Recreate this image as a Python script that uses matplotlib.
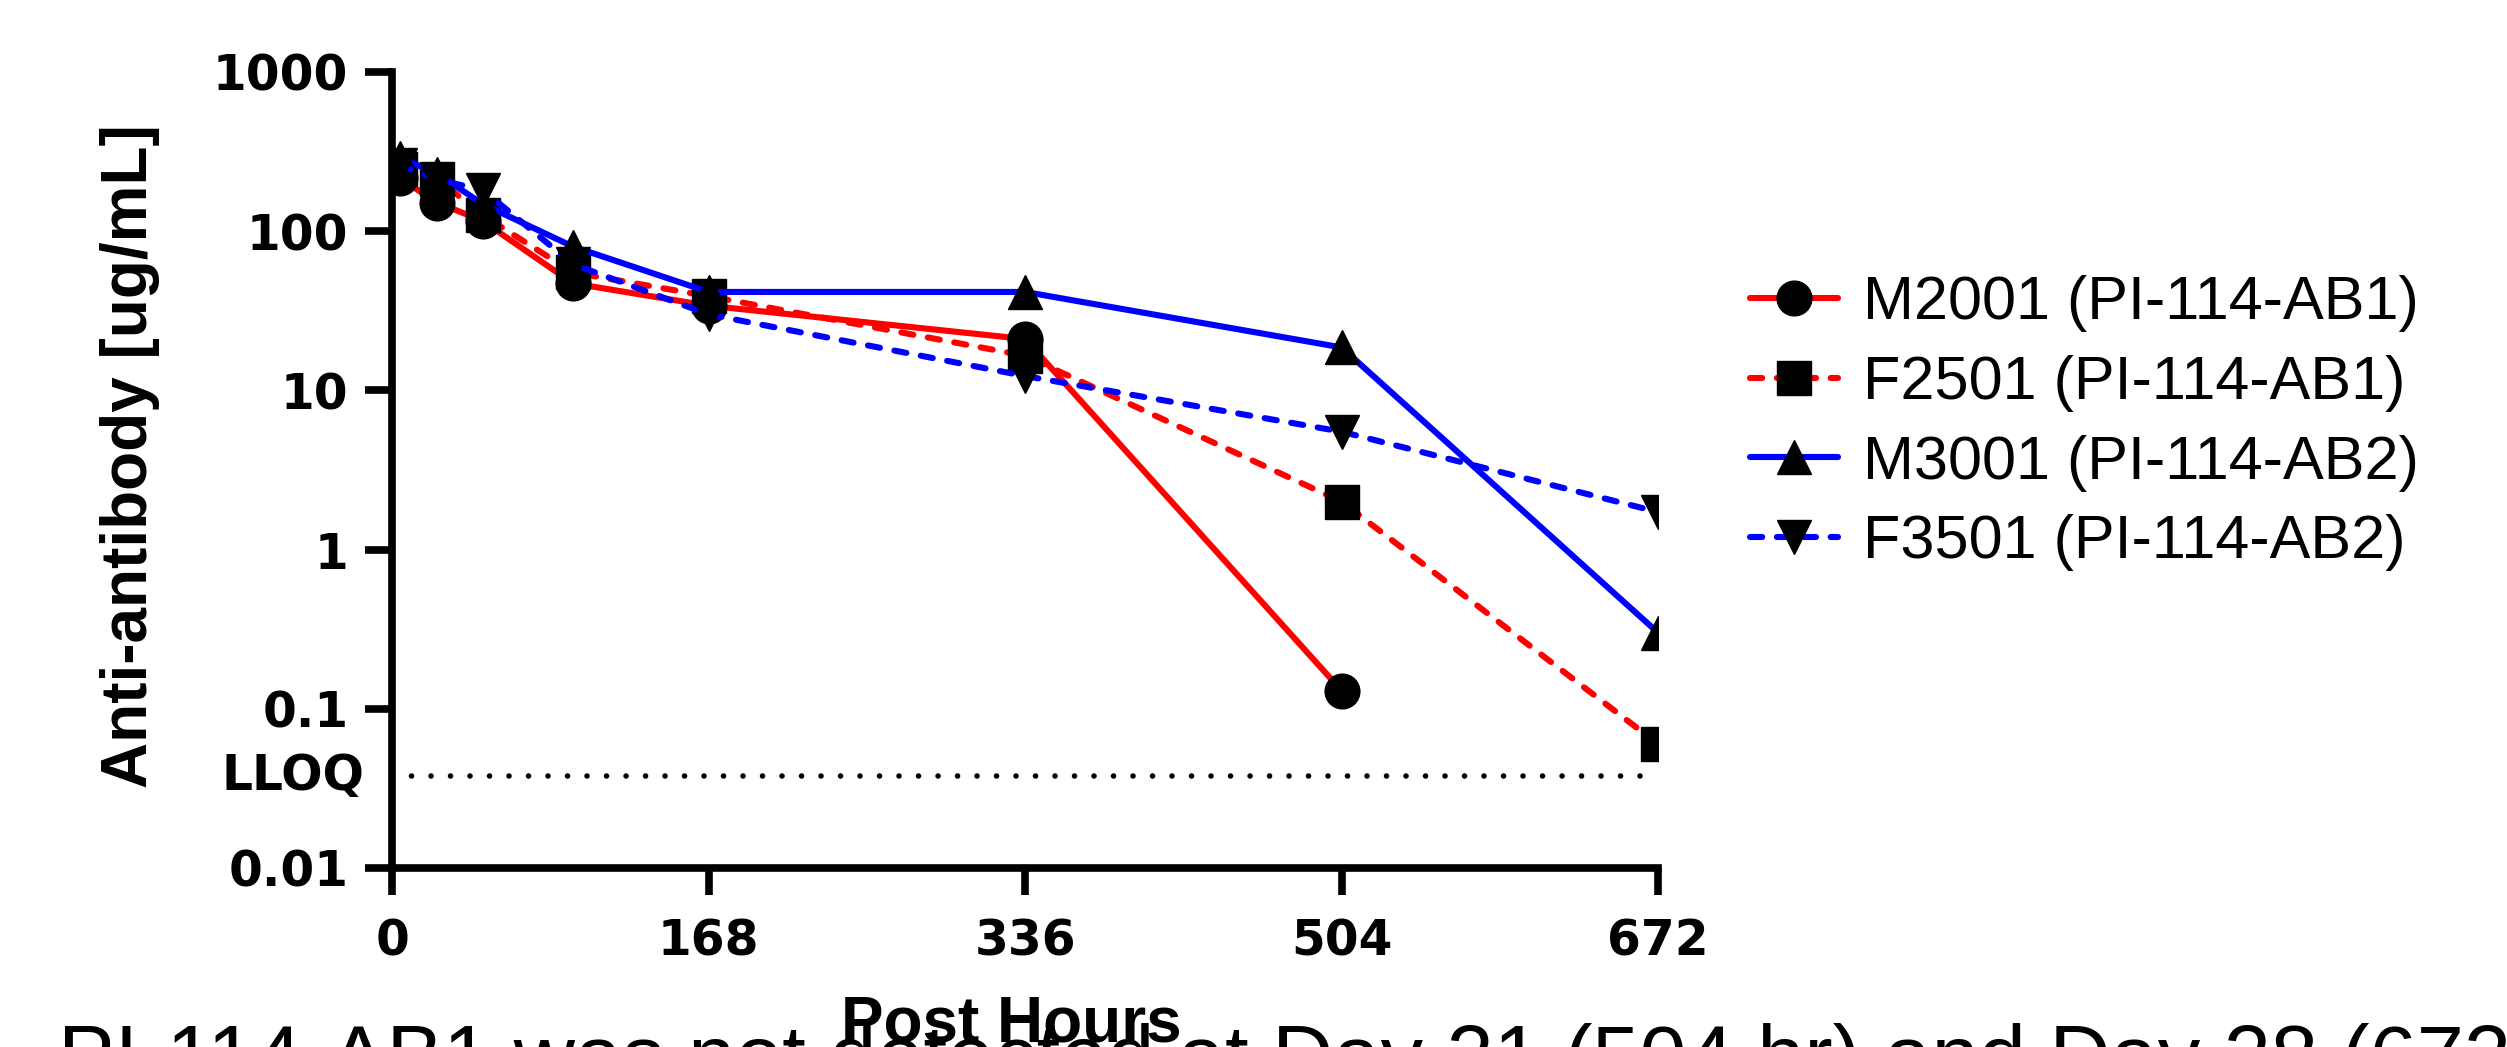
import numpy as np
import matplotlib
import matplotlib.pyplot as plt
from matplotlib.ticker import NullLocator
matplotlib.use('Agg')

# sampling times (hours) and anti-antibody concentrations (ug/mL)
hours = [4, 24, 48, 96, 168, 336, 504, 672]
m2001 = [215, 151, 116, 47, 34, 21, 0.13, np.nan]
f2501 = [245, 213, 126, 55, 39, 16.5, 2.0, 0.06]
m3001 = [290, 230, 148, 80, 41.5, 41.5, 18.6, 0.30]
f3501 = [260, 210, 182, 62, 30, 12.3, 5.5, 1.72]

labels = ["M2001 (PI-114-AB1)", "F2501 (PI-114-AB1)",
          "M3001 (PI-114-AB2)", "F3501 (PI-114-AB2)"]
lloq = 0.038

xticks = [0, 168, 336, 504, 672]
yticks = [0.01, 0.1, 1, 10, 100, 1000]
ytick_labels = ["0.01", "0.1", "1", "10", "100", "1000"]

dash = (0, (2, 2.4))
styles = [
    (m2001, 'red', '-', 'o'),
    (f2501, 'red', dash, 's'),
    (m3001, 'blue', '-', '^'),
    (f3501, 'blue', dash, 'v'),
]

fig = plt.figure(figsize=(25.07, 10.47), dpi=100)
ax = fig.add_axes([0.1564, 0.1710, 0.505, 0.7603])

for (vals, col, ls, mk), lab in zip(styles, labels):
    ax.plot(hours, vals, color=col, linestyle=ls, linewidth=4.4,
            marker=mk, markersize=25, markerfacecolor='black',
            markeredgecolor='black', label=lab,
            dash_capstyle='round', solid_capstyle='round')

ax.axhline(lloq, color='black', linewidth=4, linestyle=(0, (0.01, 3.5)),
           dash_capstyle='round')

ax.set_yscale('log')
ax.set_xlim(0, 672)
ax.set_ylim(0.01, 1000)
ax.set_xticks(xticks)
ax.set_xticklabels([str(x) for x in xticks], fontsize=35,
                   fontweight='bold', family='DejaVu Sans')
ax.set_yticks(yticks)
ax.set_yticklabels(ytick_labels, fontsize=35, fontweight='bold',
                   family='DejaVu Sans')
ax.yaxis.set_minor_locator(NullLocator())

for s in ['top', 'right']:
    ax.spines[s].set_visible(False)
for s in ['left', 'bottom']:
    ax.spines[s].set_linewidth(5.5)
ax.tick_params(axis='both', length=19.5, width=5.5)
ax.tick_params(axis='y', pad=12)
ax.tick_params(axis='x', pad=16)

ax.text(-0.0215, lloq, "LLOQ", transform=ax.get_yaxis_transform(),
        ha='right', va='center', fontsize=35, fontweight='bold',
        family='DejaVu Sans')

ax.legend(loc='upper left', bbox_to_anchor=(0.698, 0.737),
          bbox_transform=fig.transFigure, frameon=False,
          prop={'family': 'Liberation Sans', 'size': 44},
          handlelength=1.45, handletextpad=0.4, labelspacing=0.37,
          borderpad=0, borderaxespad=0, numpoints=1)

# text of the next figure caption, cut off by the crop
fig.text(0.023, -0.0365,
         "PI-114-AB1 was not detected at Day 21 (504 hr) and Day 28 (672 hr)",
         fontsize=61, family='Liberation Sans', va='baseline')

fig.text(0.052, 0.5645, "Anti-antibody [ug/mL]", rotation=90,
         ha='center', va='center', fontsize=46, fontweight='bold',
         family='Liberation Sans')
fig.text(0.4033, 0.0057, "Post Hours", ha='center', va='baseline',
         fontsize=46, fontweight='bold', family='Liberation Sans')

fig.savefig('out.png', dpi=100)
